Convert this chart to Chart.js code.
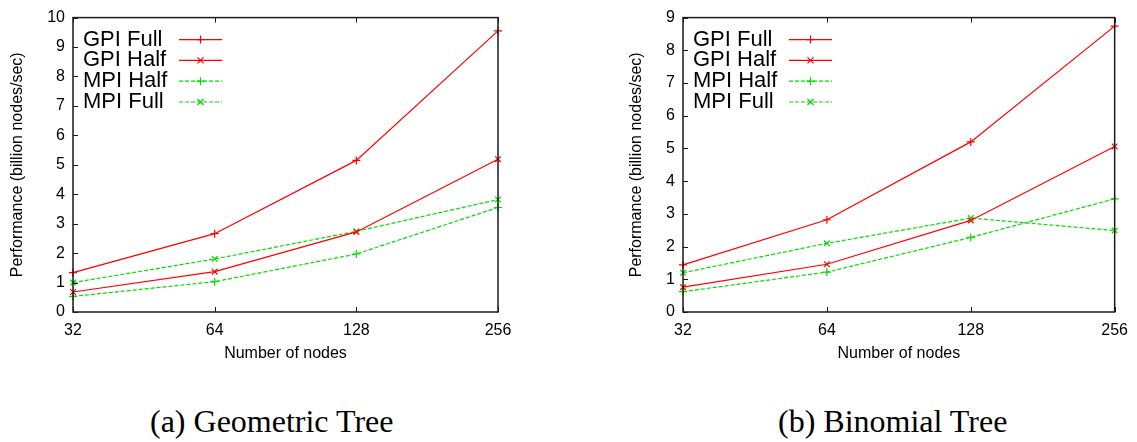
<!DOCTYPE html>
<html>
<head>
<meta charset="utf-8">
<script src="https://cdn.jsdelivr.net/npm/chart.js@4.4.1/dist/chart.umd.min.js"></script>
<style>
  body { margin: 0; background: #fff; width: 1137px; height: 442px; position: relative; overflow: hidden; }
  .panel { position: absolute; top: 0; height: 380px; }
  .caption { position: absolute; top: 403px; font-family: "Liberation Serif", serif; font-size: 32px; color: #000; white-space: nowrap; }
</style>
</head>
<body>
<div class="panel" style="left:0;width:560px"><canvas id="geoChart"></canvas></div>
<div class="panel" style="left:570px;width:567px"><canvas id="binChart"></canvas></div>
<div class="caption" style="left:150px">(a) Geometric Tree</div>
<div class="caption" style="left:778px">(b) Binomial Tree</div>
<script>
// Node counts on the x axis
const nodeCounts = ['32', '64', '128', '256'];

// Geometric tree, billion nodes/sec
const geoGpiFull = [1.34, 2.66, 5.15, 9.55];
const geoGpiHalf = [0.68, 1.37, 2.72, 5.19];
const geoMpiHalf = [0.53, 1.03, 1.97, 3.55];
const geoMpiFull = [1.00, 1.80, 2.74, 3.82];

// Binomial tree, billion nodes/sec
const binGpiFull = [1.44, 2.82, 5.20, 8.74];
const binGpiHalf = [0.76, 1.46, 2.80, 5.06];
const binMpiHalf = [0.62, 1.22, 2.28, 3.46];
const binMpiFull = [1.20, 2.10, 2.87, 2.49];

const seriesNames = ['GPI Full', 'GPI Half', 'MPI Half', 'MPI Full'];

const RED = '#ff0000';
const GREEN = '#00dd00';
const sans = '"Liberation Sans", Arial, sans-serif';

function makeDatasets(values) {
    const styles = [
        { color: RED, point: 'cross', dash: [] },
        { color: RED, point: 'crossRot', dash: [] },
        { color: GREEN, point: 'cross', dash: [4, 2] },
        { color: GREEN, point: 'crossRot', dash: [4, 2] }
    ];
    return values.map((data, i) => ({
        label: seriesNames[i],
        data: data,
        borderColor: styles[i].color,
        backgroundColor: styles[i].color,
        borderWidth: 1.2,
        borderDash: styles[i].dash,
        pointStyle: styles[i].point,
        pointRadius: 4,
        pointBorderWidth: 1.2,
        pointBorderColor: styles[i].color,
        tension: 0,
        clip: false
    }));
}

// gnuplot-like frame, inward ticks and key drawn inside the plot
const framePlugin = {
    id: 'frame',
    afterDatasetsDraw(chart) {
        const ctx = chart.ctx;
        const a = chart.chartArea;
        const xs = chart.scales.x;
        const ys = chart.scales.y;
        const tl = 5;
        ctx.save();
        ctx.strokeStyle = '#1a1a1a';
        ctx.lineWidth = 1.5;
        ctx.strokeRect(a.left, a.top, a.right - a.left, a.bottom - a.top);
        ctx.lineWidth = 1;
        ctx.beginPath();
        ys.ticks.forEach(t => {
            const y = Math.round(ys.getPixelForValue(t.value)) + 0.5;
            ctx.moveTo(a.left, y);
            ctx.lineTo(a.left + tl, y);
        });
        nodeCounts.forEach((n, i) => {
            const x = Math.round(xs.getPixelForValue(i)) + 0.5;
            ctx.moveTo(x, a.bottom);
            ctx.lineTo(x, a.bottom - tl);
            ctx.moveTo(x, a.top);
            ctx.lineTo(x, a.top + tl);
        });
        ctx.stroke();

        // key
        ctx.font = '22px ' + sans;
        ctx.textBaseline = 'middle';
        ctx.textAlign = 'left';
        chart.data.datasets.forEach((ds, i) => {
            const y = a.top + 22 + i * 20.8;
            ctx.fillStyle = '#000';
            ctx.fillText(ds.label, a.left + 10, y);
            const x0 = a.left + 106, x1 = a.left + 149, xm = (x0 + x1) / 2;
            ctx.strokeStyle = ds.borderColor;
            ctx.lineWidth = 1.2;
            ctx.setLineDash(ds.borderDash);
            ctx.beginPath();
            ctx.moveTo(x0, y);
            ctx.lineTo(x1, y);
            ctx.stroke();
            ctx.setLineDash([]);
            ctx.beginPath();
            if (ds.pointStyle === 'cross') {
                ctx.moveTo(xm - 4, y); ctx.lineTo(xm + 4, y);
                ctx.moveTo(xm, y - 4); ctx.lineTo(xm, y + 4);
            } else {
                ctx.moveTo(xm - 3, y - 3); ctx.lineTo(xm + 3, y + 3);
                ctx.moveTo(xm - 3, y + 3); ctx.lineTo(xm + 3, y - 3);
            }
            ctx.stroke();
        });
        ctx.restore();
    }
};

function makeChart(id, values, yMax, pad, yWidth, yTitlePad) {
    const canvas = document.getElementById(id);
    return new Chart(canvas, {
        type: 'line',
        data: { labels: nodeCounts, datasets: makeDatasets(values) },
        options: {
            responsive: true,
            maintainAspectRatio: false,
            animation: false,
            events: [],
            layout: { padding: pad },
            plugins: { legend: { display: false }, tooltip: { enabled: false } },
            scales: {
                x: {
                    type: 'category',
                    offset: false,
                    grid: { display: false, drawTicks: false },
                    border: { display: false },
                    ticks: { color: '#000', font: { family: sans, size: 16 }, padding: 9, maxRotation: 0 },
                    title: { display: true, text: 'Number of nodes', color: '#000', font: { family: sans, size: 16 }, padding: { top: 0, bottom: 17 } },
                    afterFit(scale) { scale.height = 68; }
                },
                y: {
                    min: 0,
                    max: yMax,
                    grid: { display: false, drawTicks: false },
                    border: { display: false },
                    ticks: { stepSize: 1, color: '#000', font: { family: sans, size: 16 }, padding: 8 },
                    title: { display: true, text: 'Performance (billion nodes/sec)', color: '#000', font: { family: sans, size: 16 }, padding: { top: yTitlePad, bottom: 0 } },
                    afterFit(scale) { scale.width = yWidth; }
                }
            }
        },
        plugins: [framePlugin]
    });
}

makeChart('geoChart', [geoGpiFull, geoGpiHalf, geoMpiHalf, geoMpiFull], 10,
    { top: 14, right: 62, left: 4, bottom: 0 }, 69, 4);
makeChart('binChart', [binGpiFull, binGpiHalf, binMpiHalf, binMpiFull], 9,
    { top: 14, right: 20, left: 50, bottom: 0 }, 63, 7.4);
</script>
</body>
</html>
